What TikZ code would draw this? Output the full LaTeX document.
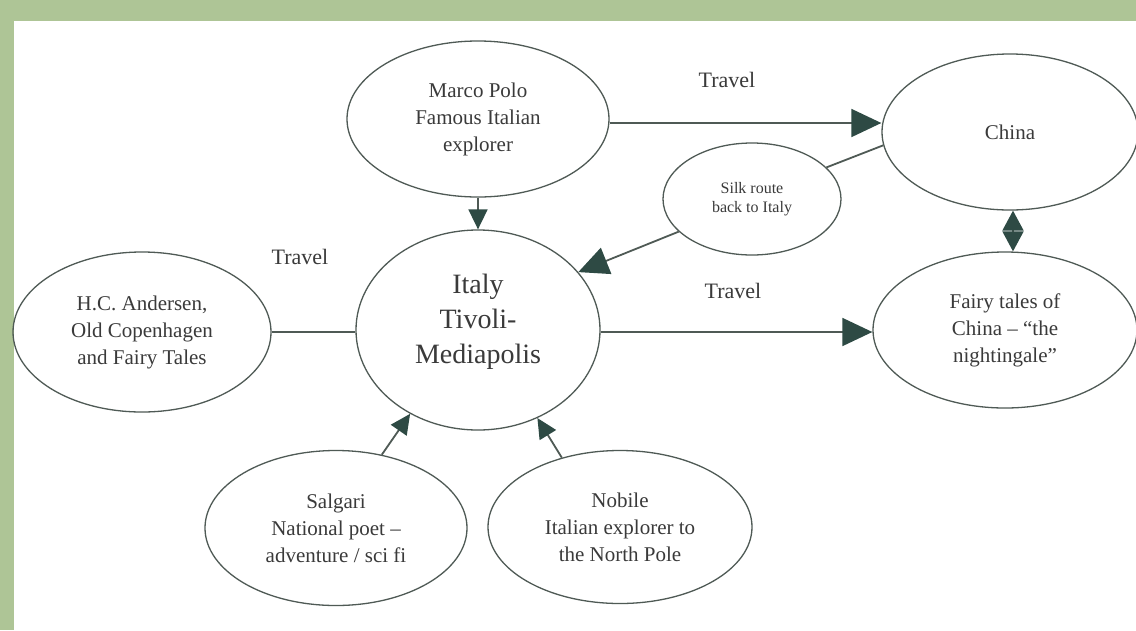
\documentclass[tikz,border=0pt]{standalone}
\usepackage{fontspec}
\setmainfont{Liberation Serif}
\usetikzlibrary{shapes.geometric,arrows.meta}
\definecolor{frame}{HTML}{AEC596}
\definecolor{edge}{HTML}{4F5A55}
\definecolor{tipc}{HTML}{2E4A44}
\definecolor{ink}{HTML}{3A3A3A}
\begin{document}
\begin{tikzpicture}[x=1pt,y=-1pt,
  bubble/.style={ellipse,draw=edge,line width=1.3pt,inner sep=0pt,align=center,
    text=ink,font=\fontsize{21}{27}\selectfont},
  link/.style={draw=edge,line width=1.8pt},
  bigarrow/.style={link,-{Triangle[length=30pt,width=28pt,color=tipc]}},
  smallarrow/.style={link,-{Triangle[length=20pt,width=19pt,color=tipc]}},
  twoarrow/.style={link,{Triangle[length=20pt,width=21pt,color=tipc]}-{Triangle[length=20pt,width=21pt,color=tipc]}},
  tag/.style={text=ink,font=\fontsize{22}{26}\selectfont,inner sep=0pt}
]
\useasboundingbox (0,0) rectangle (1136,630);
\fill[frame] (0,0) rectangle (1136,630);
\fill[white] (14,21) rectangle (1136,630);

\node[bubble,minimum width=262pt,minimum height=156pt] (marco) at (478,119)
  {Marco Polo\\Famous Italian\\explorer};
\node[bubble,minimum width=256pt,minimum height=156pt] (china) at (1010,132)
  {China};
\node[bubble,minimum width=178pt,minimum height=112pt,font=\fontsize{16}{19}\selectfont] (silk) at (752,199)
  {Silk route\\back to Italy};
\node[bubble,minimum width=244pt,minimum height=200pt,font=\fontsize{28}{35}\selectfont] (italy) at (478,330)
  {Italy\\Tivoli-\\Mediapolis\\[-12pt]\mbox{}};
\node[bubble,minimum width=258pt,minimum height=160pt] (hca) at (142,332)
  {H.C. Andersen,\\Old Copenhagen\\and Fairy Tales};
\node[bubble,minimum width=264pt,minimum height=156pt] (fairy) at (1005,330)
  {Fairy tales of\\China – “the\\nightingale”};
\node[bubble,minimum width=262pt,minimum height=155pt] (salgari) at (336,528)
  {Salgari\\National poet –\\adventure / sci fi};
\node[bubble,minimum width=264pt,minimum height=153pt] (nobile) at (620,527)
  {Nobile\\Italian explorer to\\the North Pole};

\node[tag] (t1) at (727,80) {Travel};
\node[tag] (t2) at (733,291) {Travel};
\node[tag] (t3) at (300,257) {Travel};

\draw[bigarrow] ([yshift=-4pt]marco.east) -- ([yshift=-4pt]marco.east -| china.west);
\draw[smallarrow] (marco.south) -- (italy.north);
\draw[twoarrow] ([xshift=3pt]china.south) -- ([xshift=3pt]china.south |- fairy.north);
\draw[link] (china.186) -- (silk.23);
\draw[bigarrow] (silk.204) -- (italy.30);
\draw[link] (hca.east) -- (hca.east -| italy.west);
\draw[bigarrow] ([yshift=-2pt]italy.east) -- ([yshift=-2pt]italy.east -| fairy.west);
\draw[smallarrow] (salgari.58) -- (italy.231);
\draw[smallarrow] (nobile.130) -- (italy.304);
\end{tikzpicture}
\end{document}
